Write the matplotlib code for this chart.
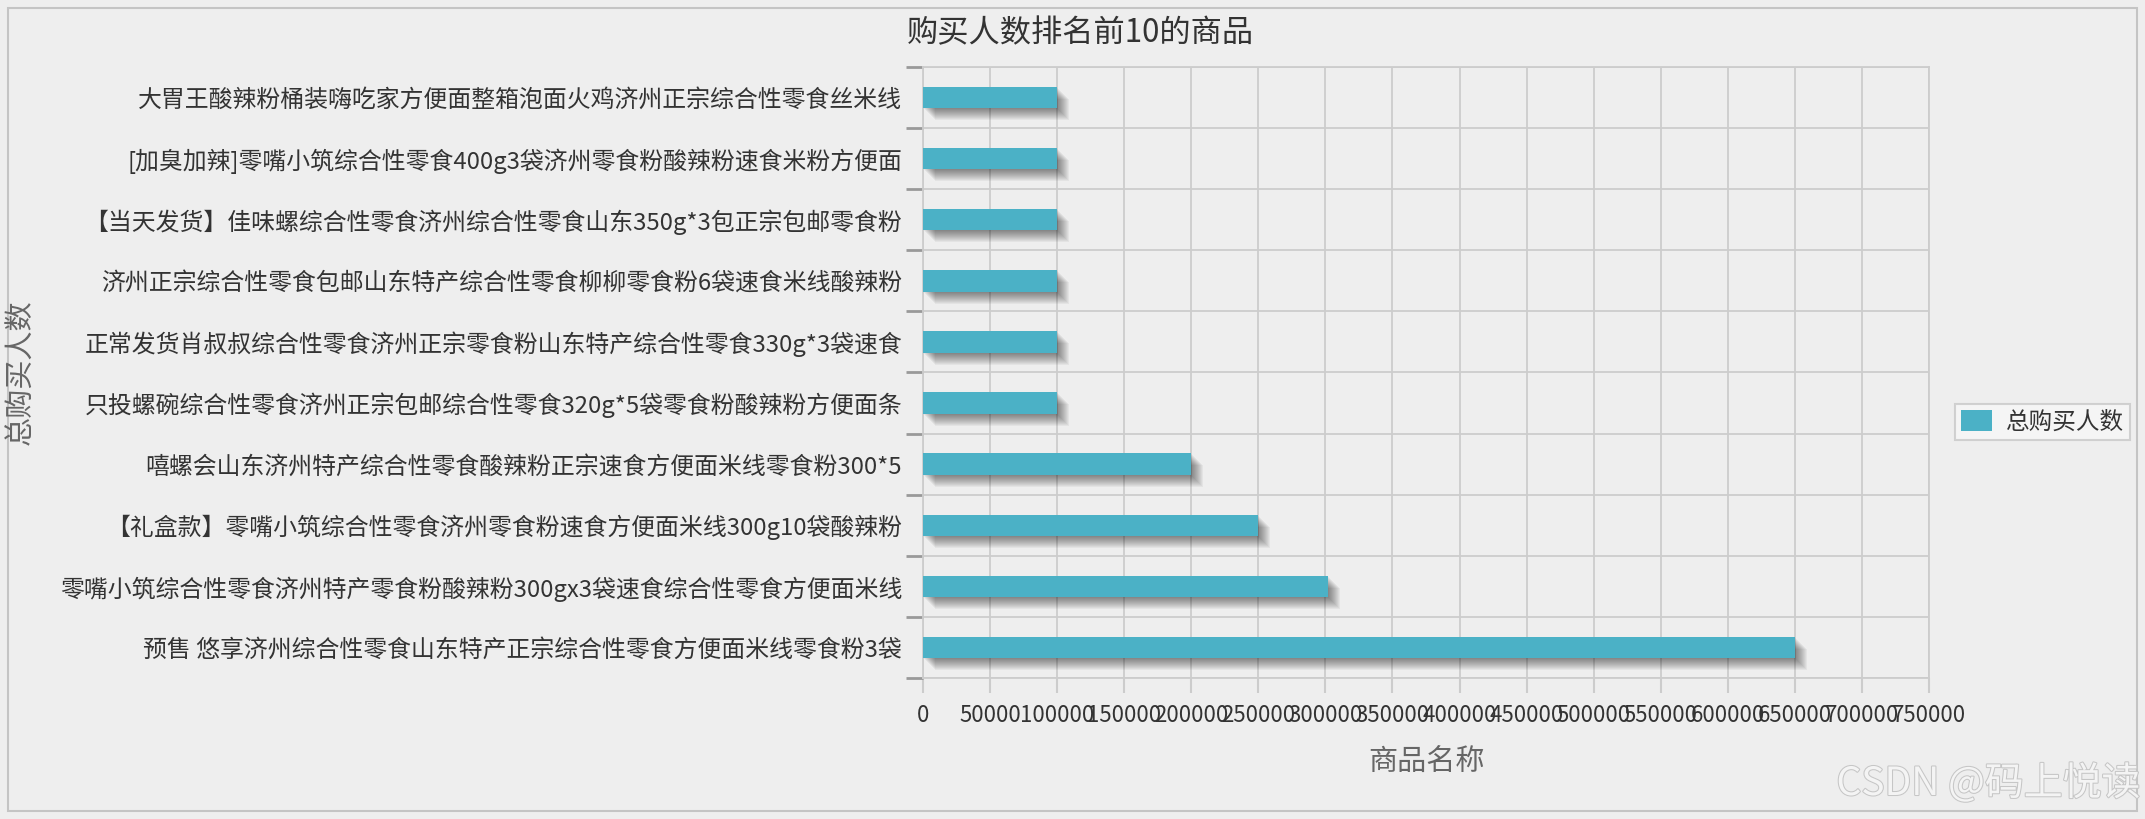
import matplotlib
matplotlib.use("Agg")
import matplotlib.pyplot as plt
import matplotlib.patheffects as pe
from matplotlib.patches import Rectangle
from matplotlib.transforms import ScaledTranslation

plt.rcParams['font.family'] = ['Noto Sans CJK SC', 'DejaVu Sans']

# ----------------------------
# Data (top to bottom)
# ----------------------------
products = [
    "大胃王酸辣粉桶装嗨吃家方便面整箱泡面火鸡济州正宗综合性零食丝米线",
    "[加臭加辣]零嘴小筑综合性零食400g3袋济州零食粉酸辣粉速食米粉方便面",
    "【当天发货】佳味螺综合性零食济州综合性零食山东350g*3包正宗包邮零食粉",
    "济州正宗综合性零食包邮山东特产综合性零食柳柳零食粉6袋速食米线酸辣粉",
    "正常发货肖叔叔综合性零食济州正宗零食粉山东特产综合性零食330g*3袋速食",
    "只投螺碗综合性零食济州正宗包邮综合性零食320g*5袋零食粉酸辣粉方便面条",
    "嘻螺会山东济州特产综合性零食酸辣粉正宗速食方便面米线零食粉300*5",
    "【礼盒款】零嘴小筑综合性零食济州零食粉速食方便面米线300g10袋酸辣粉",
    "零嘴小筑综合性零食济州特产零食粉酸辣粉300gx3袋速食综合性零食方便面米线",
    "预售 悠享济州综合性零食山东特产正宗综合性零食方便面米线零食粉3袋",
]
buyers = [100000, 100000, 100000, 100000, 100000, 100000, 200000, 250000, 302000, 650000]
x_ticks = list(range(0, 750001, 50000))

bg = "#eeeeee"
bar_color = "#4bb1c6"
grid_color = "#cccccc"

fig = plt.figure(figsize=(21.45, 8.19), dpi=100, facecolor=bg)
ax = fig.add_axes([923 / 2145, 1 - 678 / 819, (1929 - 923) / 2145, (678 - 67) / 819])
ax.set_facecolor(bg)

pos = list(range(len(products)))

# drop shadow: stacked offset copies of the bars
for k in range(1, 13):
    off = ScaledTranslation(k / 100, -k / 100, fig.dpi_scale_trans)
    ax.barh(pos, buyers, height=0.35, color="black", alpha=0.045,
            transform=ax.transData + off, zorder=2, linewidth=0)

bars = ax.barh(pos, buyers, height=0.35, color=bar_color, zorder=3,
               linewidth=0, label="总购买人数")

ax.set_xlim(0, 750000)
ax.set_ylim(len(products) - 0.5, -0.5)

ax.set_xticks(x_ticks)
ax.set_xticklabels([str(v) for v in x_ticks])
ax.set_yticks(pos)
ax.set_yticklabels(products)
ax.set_yticks([p - 0.5 for p in pos] + [len(products) - 0.5], minor=True)

ax.tick_params(axis="y", which="major", length=0, pad=15, labelsize=17.2, labelcolor="#333333")
ax.tick_params(axis="y", which="minor", length=12, width=2, color="#999999")
ax.tick_params(axis="x", which="major", length=11, width=1.5, color=grid_color,
               pad=8, labelsize=16, labelcolor="#333333")

ax.grid(True, axis="x", which="major", color=grid_color, linewidth=1.3, zorder=1)
ax.grid(True, axis="y", which="minor", color=grid_color, linewidth=1.3, zorder=1)
ax.set_axisbelow(True)
for s in ax.spines.values():
    s.set_color(grid_color)
    s.set_linewidth(1.3)

fig.text(1080 / 2145, 1 - 33 / 819, "购买人数排名前10的商品", ha="center", va="center",
         fontsize=22.5, color="#333333")
fig.text(1426 / 2145, 1 - 762 / 819, "商品名称", ha="center", va="center",
         fontsize=21, color="#666666")
fig.text(22 / 2145, 1 - 372 / 819, "总购买人数", ha="center", va="center",
         rotation=90, fontsize=21, color="#666666")

leg = fig.legend(handles=[bars], labels=["总购买人数"], loc="center left",
                 bbox_to_anchor=(1955 / 2145, 1 - 422 / 819), fontsize=17,
                 frameon=True, fancybox=False, facecolor="#f8f8f8", edgecolor="#c8c8c8",
                 borderpad=0.25, handlelength=1.3, handleheight=1.0, handletextpad=0.6,
                 borderaxespad=0)
leg.get_frame().set_linewidth(1.5)
for t in leg.get_texts():
    t.set_color("#333333")

# outer frame
fig.patches.append(Rectangle((8 / 2145, 8 / 819), (2137 - 8) / 2145, (811 - 8) / 819,
                             transform=fig.transFigure, fill=False,
                             edgecolor="#c4c4c4", linewidth=1.5))

# watermark
wm = fig.text(2140 / 2145, 1 - 784 / 819, "CSDN @码上悦读", ha="right", va="center",
              fontsize=28, color="#f4f4f4")
wm.set_path_effects([pe.withStroke(linewidth=1.5, foreground="#c6c6c6")])

fig.savefig("out.png", dpi=100, facecolor=bg)
